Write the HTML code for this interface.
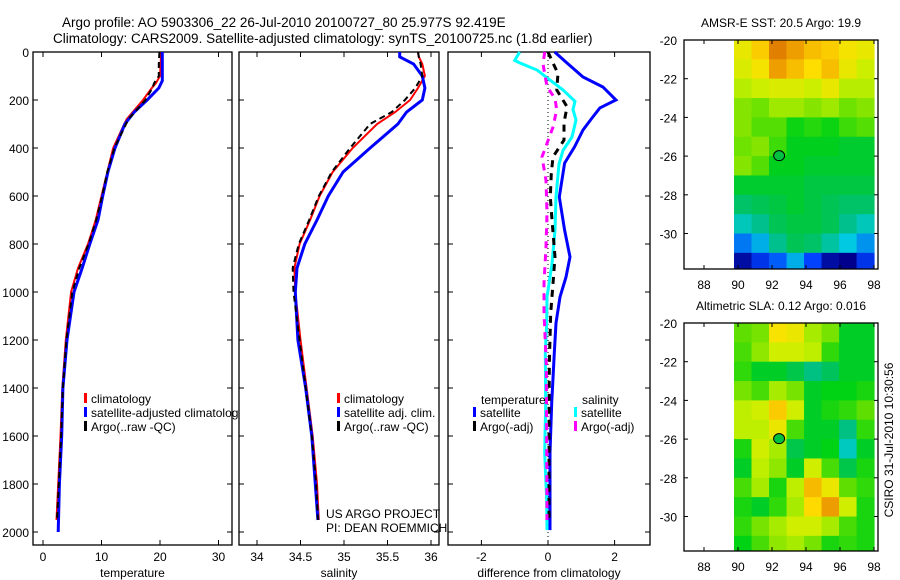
<!DOCTYPE html>
<html><head><meta charset="utf-8"><style>
html,body{margin:0;padding:0;background:#fff;}
svg{display:block;font-family:"Liberation Sans",sans-serif;}
</style></head><body>
<svg id="fig" width="900" height="580" viewBox="0 0 900 580" xmlns="http://www.w3.org/2000/svg">
<defs>
<clipPath id="clip1"><rect x="33" y="52" width="205" height="493"/></clipPath>
<clipPath id="clipm1"><rect x="734" y="40" width="144" height="229"/></clipPath>
<clipPath id="clipm2"><rect x="734" y="323" width="144" height="228"/></clipPath>
</defs>
<text x="62" y="27" font-size="13.5">Argo profile: AO 5903306_22 26-Jul-2010 20100727_80 25.977S 92.419E</text>
<text x="53" y="43" font-size="13.5">Climatology: CARS2009. Satellite-adjusted climatology: synTS_20100725.nc (1.8d earlier)</text>
<g id="g"></g>
<text transform="translate(893,440) rotate(-90)" text-anchor="middle" font-size="12">CSIRO 31-Jul-2010 10:30:56</text>
</svg>
<script>
// ---------- data ----------
const tDepth = [0,50,100,130,150,200,280,300,400,500,600,700,800,900,1000,1200,1400,1600,1800,1950];
const tempClim = [20.2,20.1,20.0,19.3,18.6,17.1,14.3,13.9,12.0,11.0,10.0,9.0,7.7,6.0,4.8,3.9,3.3,3.0,2.6,2.3];
const tempArgo = [19.9,19.8,19.8,19.0,18.7,17.5,14.6,14.2,12.2,11.0,10.1,9.1,7.8,6.2,5.0,4.0,3.4,3.1,2.7,2.4];
const bDepth = [0,50,100,120,150,200,250,300,400,500,600,700,800,900,1000,1200,1400,1600,1800,2000];
const tempSat = [20.4,20.4,20.4,20.4,19.8,17.8,15.6,14.0,12.3,11.1,10.2,9.4,8.0,6.7,5.3,4.1,3.4,3.2,2.8,2.6];
const sDepth = [0,20,50,100,150,200,250,300,400,500,600,700,800,900,1000,1200,1400,1600,1800,1950];
const salClim = [35.85,35.86,35.9,35.93,35.85,35.76,35.59,35.38,35.10,34.87,34.72,34.61,34.49,34.43,34.44,34.50,34.57,34.64,34.69,34.71];
const salArgo = [35.85,35.86,35.88,35.9,35.82,35.7,35.55,35.3,35.07,34.86,34.71,34.6,34.48,34.41,34.42,34.49,34.56,34.63,34.68,34.70];
const salSat  = [35.64,35.64,35.8,35.9,35.93,35.9,35.72,35.62,35.3,34.99,34.82,34.69,34.55,34.46,34.44,34.47,34.56,34.63,34.67,34.70];
const dDepthA = [0,46,104,146,200,233,275,325,395,463,604,742,854,938,1021,1129,1254,1463,1671,1992];
const dTempSat = [0.2,0.57,1.05,1.65,2.04,1.56,1.32,1.05,0.8,0.5,0.34,0.5,0.66,0.54,0.36,0.24,0.19,0.11,0.06,0.06];
const dDepthB = [0,35,46,75,117,158,206,240,283,354,410,467,604,742,882,1021,1129,1254,1463,1671,1867,1992];
const dSalSat = [-0.85,-1.0,-0.84,-0.33,0.06,0.45,0.81,0.75,0.84,0.72,0.45,0.33,0.24,0.21,0.12,-0.03,-0.04,-0.08,-0.07,-0.1,-0.04,-0.03];
const dDepthC = [0,46,90,158,228,296,367,437,506,604,715,854,965,1088,1300,1600,1950];
const dTempArgo = [0,0.15,0.3,0.26,0.57,0.48,0.48,0.15,0.1,0.07,0.13,0.21,0.15,0.08,0.04,0.03,0.03];
const dDepthD = [0,50,144,194,240,313,437,535,673,812,965,1088,1300,1600,1950];
const dSalArgo = [-0.1,-0.15,-0.03,0.21,0.26,0.15,-0.18,-0.06,-0.03,-0.06,-0.12,-0.12,-0.05,-0.04,-0.03];
const depthTicks = [0,200,400,600,800,1000,1200,1400,1600,1800,2000];
const tempTicks = [0,10,20,30];
const salTicks = [34,34.5,35,35.5,36];
const diffTicks = [-2,0,2];
const mapLons = [90.28,91.31,92.34,93.37,94.40,95.43,96.46,97.49];
const mapLats = [-20,-21,-22,-23,-24,-25,-26,-27,-28,-29,-30,-31];
const lonTicks = [88,90,92,94,96,98];
const latTicks = [-20,-22,-24,-26,-28,-30];
const sst = [
[21.0,21.3,21.8,21.6,21.4,21.3,21.1,21.0],
[20.9,21.1,21.6,21.4,21.2,21.4,21.0,20.8],
[20.7,20.8,20.9,20.9,20.8,21.0,20.7,20.7],
[20.5,20.4,20.6,20.6,20.5,20.6,20.4,20.5],
[20.5,20.3,20.3,20.0,20.1,20.0,20.2,20.3],
[20.4,20.5,20.2,19.9,19.9,19.9,19.8,19.8],
[20.5,20.3,19.9,19.9,19.8,19.8,19.8,19.8],
[19.8,19.8,19.8,19.8,19.7,19.7,19.7,19.7],
[19.5,19.6,19.7,19.8,19.7,19.6,19.5,19.5],
[19.1,19.3,19.6,19.7,19.7,19.6,19.3,19.1],
[18.6,18.8,19.3,19.6,19.5,19.2,18.9,18.7],
[18.0,18.3,18.5,18.8,18.4,18.0,17.9,18.3]];
const sla = [
[0.05,0.06,0.13,0.12,0.08,0.06,0.0,0.0],
[0.04,0.07,0.10,0.10,0.09,0.03,0.0,0.0],
[0.03,0.0,0.0,-0.02,-0.05,-0.03,0.0,0.0],
[0.06,0.04,0.08,0.06,0.0,0.01,0.01,0.02],
[0.09,0.10,0.15,0.10,0.0,0.02,0.03,0.05],
[0.09,0.09,0.12,0.04,0.0,0.0,-0.05,0.03],
[0.02,0.10,0.08,-0.02,0.0,0.01,-0.08,0.0],
[0.00,0.09,0.07,0.0,0.10,0.04,-0.02,0.02],
[0.04,0.08,0.02,0.09,0.16,0.12,0.05,0.03],
[0.02,0.0,0.03,0.08,0.14,0.18,0.10,0.02],
[0.03,0.06,0.08,0.10,0.10,0.08,0.04,0.02],
[0.01,0.04,0.07,0.08,0.06,0.02,0.03,0.02]];
const argoPos = [92.419,-25.977];

// ---------- scales ----------
const NS="http://www.w3.org/2000/svg";
const G=document.getElementById('g');
const yD = d => 52 + d*0.24;
const xT = v => 43 + v*5.85;
const xS = v => 257 + (v-34)*87;
const xDf = v => 548 + v*33.3;
const mx = lon => 738 + (lon-90)*17;
const myA = lat => 40 + (-20-lat)*19.35;
const myB = lat => 323 + (-20-lat)*19.35;
const HALF = 0.515;
function el(tag, attrs, parent){const e=document.createElementNS(NS,tag);for(const k in attrs)e.setAttribute(k,attrs[k]);(parent||G).appendChild(e);return e;}
function txt(x,y,s,anchor,size,parent){const t=el('text',{x:x,y:y,'font-size':size||12,'text-anchor':anchor||'start'},parent);t.textContent=s;return t;}
function line(xs,ds,xf,color,w,dash,name,parent){
  const pts=xs.map((v,i)=>xf(v).toFixed(1)+','+yD(ds[i]).toFixed(1)).join(' ');
  const p=el('polyline',{points:pts,fill:'none',stroke:color,'stroke-width':w,'stroke-dasharray':dash||'none'},parent);
  
  
}
function panel(x0,x1,name,ticks,xf,xlabel,leftLabels){
  const f=el('rect',{x:x0,y:52,width:x1-x0,height:493,fill:'none',stroke:'#000','stroke-width':1.3});
  
  
  depthTicks.forEach(d=>{
    el('line',{x1:x0,x2:x0+5,y1:yD(d),y2:yD(d),stroke:'#000'});
    el('line',{x1:x1-5,x2:x1,y1:yD(d),y2:yD(d),stroke:'#000'});
    if(leftLabels){const t=txt(x0-4,yD(d)+5,String(d),'end',12);
      
      }
  });
  ticks.forEach(v=>{
    el('line',{x1:xf(v),x2:xf(v),y1:52,y2:57,stroke:'#000'});
    el('line',{x1:xf(v),x2:xf(v),y1:540,y2:545,stroke:'#000'});
    const t=txt(xf(v),561,String(v),'middle',12);
    
    
  });
  const l=txt((x0+x1)/2,577,xlabel,'middle',12);
  
  
}
function legendItem(x,y,color,label,name,parent){
  el('rect',{x:x,y:y-10,width:3,height:10,fill:color},parent);
  const t=txt(x+7,y,label,'start',12,parent);
  
  
}

// ---------- temperature panel ----------
panel(33,232,'temperature',tempTicks,xT,'temperature',true);
line(tempClim,tDepth,xT,'#f00',2,null,'temp-climatology-line');
line(tempSat,bDepth,xT,'#00f',3,null,'temp-satellite-line');
line(tempArgo,tDepth,xT,'#000',2,'6,4','temp-argo-line');
const lg1=el('g',{'clip-path':'url(#clip1)'});
legendItem(84,403,'#f00','climatology','legend-climatology',lg1);
legendItem(84,417,'#00f','satellite-adjusted climatology','legend-satellite-adjusted',lg1);
legendItem(84,431,'#000','Argo(..raw -QC)','legend-argo-raw',lg1);

// ---------- salinity panel ----------
panel(239,439,'salinity',salTicks,xS,'salinity',false);
line(salClim,sDepth,xS,'#f00',2,null,'sal-climatology-line');
line(salSat,sDepth,xS,'#00f',3,null,'sal-satellite-line');
line(salArgo,sDepth,xS,'#000',2,'6,4','sal-argo-line');
legendItem(337,403,'#f00','climatology','legend-sal-climatology');
legendItem(337,417,'#00f','satellite adj. clim.','legend-sal-satellite');
legendItem(337,431,'#000','Argo(..raw -QC)','legend-sal-argo');
let t=txt(326,518,'US ARGO PROJECT','start',12);


t=txt(326,532,'PI: DEAN ROEMMICH','start',12);



// ---------- difference panel ----------
panel(448,650,'difference',diffTicks,xDf,'difference from climatology',false);
el('line',{x1:xDf(0),x2:xDf(0),y1:52,y2:545,stroke:'#000','stroke-dasharray':'1,3'});
line(dTempSat,dDepthA,xDf,'#00f',3,null,'diff-temp-satellite-line');
line(dSalSat,dDepthB,xDf,'#0ff',3,null,'diff-sal-satellite-line');
line(dTempArgo,dDepthC,xDf,'#000',3,'7,6','diff-temp-argo-line');
line(dSalArgo,dDepthD,xDf,'#f0f',3,'7,6','diff-sal-argo-line');
t=txt(481,404,'temperature','start',12);


t=txt(582,404,'salinity','start',12);


legendItem(473,417,'#00f','satellite','legend-diff-temp-satellite');
legendItem(473,431,'#000','Argo(-adj)','legend-diff-temp-argo');
legendItem(574,417,'#0ff','satellite','legend-diff-sal-satellite');
legendItem(574,431,'#f0f','Argo(-adj)','legend-diff-sal-argo');

// ---------- maps ----------
const cstops=[[0,[0,0,140]],[0.12,[0,64,255]],[0.25,[0,208,224]],[0.33,[0,192,150]],[0.42,[0,196,80]],[0.5,[0,210,20]],[0.6,[100,224,0]],[0.7,[200,240,0]],[0.8,[255,224,0]],[0.9,[240,160,0]],[1,[208,96,0]]];
function cmap(tv){tv=Math.max(0,Math.min(1,tv));
  for(let i=1;i<cstops.length;i++){if(tv<=cstops[i][0]){const a=cstops[i-1],b=cstops[i];const f=(tv-a[0])/(b[0]-a[0]);
    const c=a[1].map((v,k)=>Math.round(v+(b[1][k]-v)*f));return 'rgb('+c.join(',')+')';}}
  return 'rgb(208,96,0)';}
function drawMap(vals,vmin,vmax,my,top,bottom,clip,name,title,xlabY){
  const gm=el('g',{'clip-path':'url(#'+clip+')'});
  
  
  mapLats.forEach((lat,r)=>{mapLons.forEach((lon,c)=>{
    const x0=mx(lon-HALF),x1=mx(lon+HALF),y0=my(lat),y1=my(lat-1);
    const cell=el('rect',{x:x0,y:y0,width:x1-x0+0.5,height:y1-y0+0.5,fill:cmap((vals[r][c]-vmin)/(vmax-vmin))},gm);
    
    
  });});
  const fr=el('rect',{x:684,y:top,width:194,height:bottom-top,fill:'none',stroke:'#000','stroke-width':1.3});
  
  
  const m=el('ellipse',{cx:mx(argoPos[0]),cy:my(argoPos[1]),rx:5.5,ry:5,fill:'#00c040',stroke:'#000','stroke-width':1});
  
  
  latTicks.forEach(v=>{el('line',{x1:684,x2:688,y1:my(v),y2:my(v),stroke:'#000'});el('line',{x1:874,x2:878,y1:my(v),y2:my(v),stroke:'#000'});
    const tl=txt(677,my(v)+5,String(v),'end',12);
    
    });
  lonTicks.forEach(v=>{el('line',{x1:mx(v),x2:mx(v),y1:top,y2:top+4,stroke:'#000'});el('line',{x1:mx(v),x2:mx(v),y1:bottom-4,y2:bottom,stroke:'#000'});
    const tl=txt(mx(v),xlabY,String(v),'middle',12);
    
    });
  const tt=txt(781,top-13,title,'middle',12);
  
  
}
drawMap(sst,17.9,22.0,myA,40,269,'clipm1','sst-map','AMSR-E SST: 20.5 Argo: 19.9',289);
drawMap(sla,-0.2,0.22,myB,323,551,'clipm2','sla-map','Altimetric SLA: 0.12 Argo: 0.016',571);
</script>
</body></html>
